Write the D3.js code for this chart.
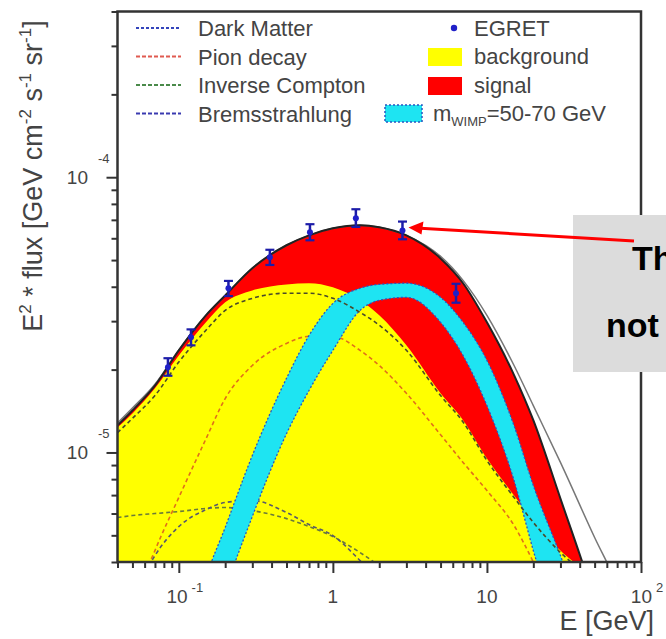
<!DOCTYPE html>
<html><head><meta charset="utf-8">
<script src="https://cdn.jsdelivr.net/npm/d3@7"></script>
<style>body{margin:0;background:#fff;overflow:hidden}svg{display:block;font-family:"Liberation Sans",Arial,sans-serif}</style>
</head><body><svg id="c" width="666" height="639"></svg>
<script>
// ---- data (E in GeV, E^2*flux in GeV cm^-2 s^-1 sr^-1) ----
const energy     = [0.04,0.05,0.07,0.1,0.15,0.2,0.3,0.5,0.7,1,1.5,2,3,5,7,10,15,20,30,50,70,100];
const totalFit   = [1.254e-5,1.42e-5,1.75e-5,2.35e-5,3.15e-5,3.72e-5,4.67e-5,5.66e-5,6.15e-5,6.52e-5,6.69e-5,6.58e-5,6.15e-5,5.07e-5,4.12e-5,2.97e-5,1.91e-5,1.31e-5,6.8e-6,2.9e-6,1.5e-6,6e-7];
const altFit     = [1.28e-5,1.45e-5,1.77e-5,2.36e-5,3.15e-5,3.72e-5,4.67e-5,5.66e-5,6.15e-5,6.52e-5,6.69e-5,6.58e-5,6.15e-5,5.16e-5,4.22e-5,3.15e-5,2.07e-5,1.48e-5,9.2e-6,4.91e-6,3.31e-6,1.9e-6];
const background = [1.233e-5,1.386e-5,1.71e-5,2.25e-5,2.97e-5,3.51e-5,3.88e-5,4.08e-5,4.12e-5,3.98e-5,3.57e-5,3.15e-5,2.45e-5,1.64e-5,1.31e-5,9.51e-6,6.98e-6,5.66e-6,4.4e-6,3.48e-6,2.9e-6,2.07e-6];
const bgSum      = [1.18e-5,1.33e-5,1.61e-5,2.13e-5,2.78e-5,3.28e-5,3.63e-5,3.79e-5,3.79e-5,3.63e-5,3.23e-5,2.9e-5,2.35e-5,1.61e-5,1.29e-5,9.35e-6,6.86e-6,5.57e-6,4.33e-6,3.42e-6,2.85e-6,2.0e-6];
const pion       = [1.25e-6,2.66e-6,4.4e-6,6.86e-6,1.12e-5,1.57e-5,2.07e-5,2.49e-5,2.64e-5,2.64e-5,2.35e-5,2.07e-5,1.64e-5,1.16e-5,9.2e-6,7.27e-6,5.43e-6,4.0e-6,2.45e-6,1.2e-6,7e-7,4e-7];
const invCompton = [5.8e-6,5.9e-6,6.0e-6,6.1e-6,6.26e-6,6.31e-6,6.15e-6,5.75e-6,5.38e-6,4.95e-6,4.33e-6,3.88e-6,3.28e-6,2.6e-6,2.1e-6,1.6e-6,1.2e-6,1e-6,null,null,null,null];
const brems      = [1.9e-6,2.9e-6,4.22e-6,5.38e-6,6.2e-6,6.58e-6,6.69e-6,6.05e-6,5.47e-6,4.99e-6,4.05e-6,3.42e-6,2.6e-6,1.8e-6,1.3e-6,1e-6,null,null,null,null,null,null];
const dmUpper    = [null,null,null,1.25e-6,3.48e-6,5.34e-6,9.75e-6,1.86e-5,2.66e-5,3.48e-5,3.95e-5,4.08e-5,4.12e-5,3.66e-5,2.97e-5,2.16e-5,1.25e-5,7.59e-6,4.22e-6,1.9e-6,null,null];
const dmLower    = [null,null,null,5.4e-7,1.7e-6,3.1e-6,5.85e-6,1.17e-5,1.68e-5,2.35e-5,3.28e-5,3.57e-5,3.66e-5,2.97e-5,2.25e-5,1.48e-5,7.91e-6,4.4e-6,2.07e-6,3.6e-7,null,null];
const egretE     = [0.085,0.12,0.21,0.39,0.71,1.41,2.83,6.3];
const egretFlux  = [2.04e-5,2.62e-5,3.95e-5,5.12e-5,6.31e-5,7.1e-5,6.41e-5,3.79e-5];
const egretLow   = [1.90e-5,2.45e-5,3.70e-5,4.80e-5,5.90e-5,6.60e-5,5.95e-5,3.50e-5];
const egretHigh  = [2.20e-5,2.80e-5,4.20e-5,5.45e-5,6.75e-5,7.65e-5,6.90e-5,4.10e-5];
const xMajor = [0.1,1,10,100];
const xMajorLabels = [["10","-1"],["1",""],["10",""],["10","2"]];
const yMajor = [1e-5,1e-4];
const yMajorLabels = [["10","-5"],["10","-4"]];
const legendLines = [["Dark Matter","#3344bb","3,2"],["Pion decay","#e05a50","4,2"],["Inverse Compton","#4a8a4a","4,2"],["Bremsstrahlung","#3a3ab0","4,2"]];

// ---- layout ----
const L=117.5,R=641,T=11.5,B=562;
const svg=d3.select("#c");
const x=d3.scaleLog().domain([0.04,100]).range([L,R]);
const y=d3.scaleLog().domain([4e-6,4e-4]).range([B,T]);

svg.append("defs").append("clipPath").attr("id","clip").append("rect")
  .attr("x",L).attr("y",T).attr("width",R-L).attr("height",B-T);
const g=svg.append("g").attr("clip-path","url(#clip)");

const pts=(arr)=>energy.map((e,i)=>({e,v:arr[i]}));
const lineGen=d3.line().defined(d=>d.v!=null).x(d=>x(d.e)).y(d=>y(d.v)).curve(d3.curveMonotoneX);
const areaToBottom=d3.area().defined(d=>d.v!=null).x(d=>x(d.e)).y0(B+5).y1(d=>y(d.v)).curve(d3.curveMonotoneX);

// signal (total) in red, background in yellow
g.append("path").attr("d",areaToBottom(pts(totalFit))).attr("fill","#ff0000");
g.append("path").attr("d",areaToBottom(pts(background))).attr("fill","#ffff00");

// component dashed lines
const dashed=(arr,col,w,da)=>g.append("path").attr("d",lineGen(pts(arr))).attr("fill","none")
  .attr("stroke",col).attr("stroke-width",w).attr("stroke-dasharray",da);
dashed(pion,"#e0701a",1.6,"4,3");
dashed(invCompton,"#6a7a3a",1.6,"4,3");
dashed(brems,"#5a5a6a",1.6,"4,3");

// DM band
const band=energy.map((e,i)=>({e,lo:dmLower[i],hi:dmUpper[i]}));
const bandArea=d3.area().defined(d=>d.lo!=null&&d.hi!=null).x(d=>x(d.e)).y0(d=>y(d.lo)).y1(d=>y(d.hi)).curve(d3.curveMonotoneX);
g.append("path").attr("d",bandArea(band)).attr("fill","#1ee4f2");
dashed(dmUpper,"#2a55c0",1.3,"2,2");
dashed(dmLower,"#2a55c0",1.3,"2,2");

dashed(bgSum,"#4a4a2a",1.6,"4,3");

// fit lines
g.append("path").attr("d",lineGen(pts(altFit))).attr("fill","none").attr("stroke","#777").attr("stroke-width",1.5);
g.append("path").attr("d",lineGen(pts(totalFit))).attr("fill","none").attr("stroke","#222").attr("stroke-width",2);

// EGRET points
const eg=svg.append("g");
egretE.forEach((e,i)=>{
  const cx=x(e);
  eg.append("line").attr("x1",cx).attr("x2",cx).attr("y1",y(egretLow[i])).attr("y2",y(egretHigh[i])).attr("stroke","#1c1ca8").attr("stroke-width",2.5);
  [egretLow[i],egretHigh[i]].forEach(v=>eg.append("line").attr("x1",cx-4.5).attr("x2",cx+4.5).attr("y1",y(v)).attr("y2",y(v)).attr("stroke","#1c1ca8").attr("stroke-width",2.2));
  eg.append("circle").attr("cx",cx).attr("cy",y(egretFlux[i])).attr("r",3).attr("fill","#2020c8");
});

// axes
const minorX=[];[0.01,0.1,1,10].forEach(d=>{for(let k=2;k<=9;k++){const v=d*k;if(v>=0.04&&v<100)minorX.push(v);}});
const minorY=[];[1e-6,1e-5,1e-4].forEach(d=>{for(let k=2;k<=9;k++){const v=d*k;if(v>=4e-6&&v<=4e-4)minorY.push(v);}});
const ax=svg.append("g").attr("transform",`translate(0,${B})`);
ax.call(d3.axisBottom(x).tickValues(minorX).tickSize(6).tickFormat(""));
ax.append("g").call(d3.axisBottom(x).tickValues(xMajor).tickSize(11).tickFormat(""));
const ay=svg.append("g").attr("transform",`translate(${L},0)`);
ay.call(d3.axisLeft(y).tickValues(minorY).tickSize(6).tickFormat(""));
ay.append("g").call(d3.axisLeft(y).tickValues(yMajor).tickSize(11).tickFormat(""));
svg.selectAll(".domain").remove();
svg.selectAll(".tick line").attr("stroke","#333").attr("stroke-width",2);

// frame
svg.append("rect").attr("x",L).attr("y",T).attr("width",R-L).attr("height",B-T).attr("fill","none").attr("stroke","#333").attr("stroke-width",2.5);

// tick labels
xMajor.forEach((v,i)=>{
  const [b,s]=xMajorLabels[i];
  const t=svg.append("text").attr("y",603).attr("font-size",19).attr("fill","#444").attr("text-anchor","middle").attr("x",x(v)+(s?6:0));
  t.append("tspan").text(b);
  if(s){t.append("tspan").attr("dx",4).attr("dy",-11).attr("font-size",13).text(s);}
});
yMajor.forEach((v,i)=>{
  const [b,s]=yMajorLabels[i];
  svg.append("text").attr("x",88).attr("y",y(v)+7).attr("font-size",19).attr("fill","#444").attr("text-anchor","end").text(b);
  svg.append("text").attr("x",98).attr("y",y(v)-14).attr("font-size",13).attr("fill","#444").text(s);
});

// axis titles
const yl=svg.append("text").attr("transform","translate(42,176) rotate(-90)").attr("text-anchor","middle").attr("font-size",27).attr("fill","#444");
[["E",0],["2",1],[" * flux [GeV cm",0],["-2",1],[" s",0],["-1",1],[" sr",0],["-1",1],["]",0]].forEach(([t,s],i,a)=>{
  const prev=i>0?a[i-1][1]:0;
  const sp=yl.append("tspan").text(t);
  if(s&&!prev){sp.attr("dy",-11).attr("font-size",17);}
  else if(!s&&prev){sp.attr("dy",11);}
});
svg.append("text").attr("x",654).attr("y",630).attr("text-anchor","end").attr("font-size",27).attr("fill","#444").text("E [GeV]");

// legend
legendLines.forEach(([name,col,da],i)=>{
  const ly=28+i*28.5;
  svg.append("line").attr("x1",136).attr("x2",181).attr("y1",ly).attr("y2",ly).attr("stroke",col).attr("stroke-width",2).attr("stroke-dasharray",da);
  svg.append("text").attr("x",198).attr("y",ly+8).attr("font-size",22).attr("fill","#444").text(name);
});
svg.append("circle").attr("cx",454).attr("cy",28).attr("r",3.2).attr("fill","#2020c8");
svg.append("text").attr("x",474).attr("y",36).attr("font-size",22).attr("fill","#444").text("EGRET");
svg.append("rect").attr("x",428).attr("y",48).attr("width",34).attr("height",18).attr("fill","#ffff00");
svg.append("text").attr("x",474).attr("y",64).attr("font-size",22).attr("fill","#444").text("background");
svg.append("rect").attr("x",428).attr("y",77).attr("width",34).attr("height",18).attr("fill","#ff0000");
svg.append("text").attr("x",474).attr("y",93).attr("font-size",22).attr("fill","#444").text("signal");
svg.append("rect").attr("x",385).attr("y",105).attr("width",37).attr("height",17).attr("fill","#1ee4f2").attr("stroke","#2a55c0").attr("stroke-width",1.5).attr("stroke-dasharray","2,2");
const mw=svg.append("text").attr("x",433).attr("y",121).attr("font-size",22).attr("fill","#444");
mw.append("tspan").text("m");
mw.append("tspan").attr("dy",5).attr("font-size",13).text("WIMP");
mw.append("tspan").attr("dy",-5).text("=50-70 GeV");

// annotation box and arrow (text is cut by the page edge, as in the reference)
svg.append("rect").attr("x",573).attr("y",215).attr("width",100).attr("height",157).attr("fill","#dcdcdc");
svg.append("text").attr("x",632).attr("y",270).attr("font-size",34).attr("font-weight","bold").attr("fill","#000").text("Th");
svg.append("text").attr("x",606).attr("y",337).attr("font-size",34).attr("font-weight","bold").attr("fill","#000").text("not");
const tipX=x(egretE[6])+6, tipY=y(egretFlux[6])-3;
svg.append("line").attr("x1",634).attr("y1",241).attr("x2",tipX+12).attr("y2",tipY+0.8).attr("stroke","#f00").attr("stroke-width",3);
svg.append("path").attr("d",`M${tipX},${tipY} L${tipX+15},${tipY-6} L${tipX+13},${tipY+7} Z`).attr("fill","#f00");
</script></body></html>
